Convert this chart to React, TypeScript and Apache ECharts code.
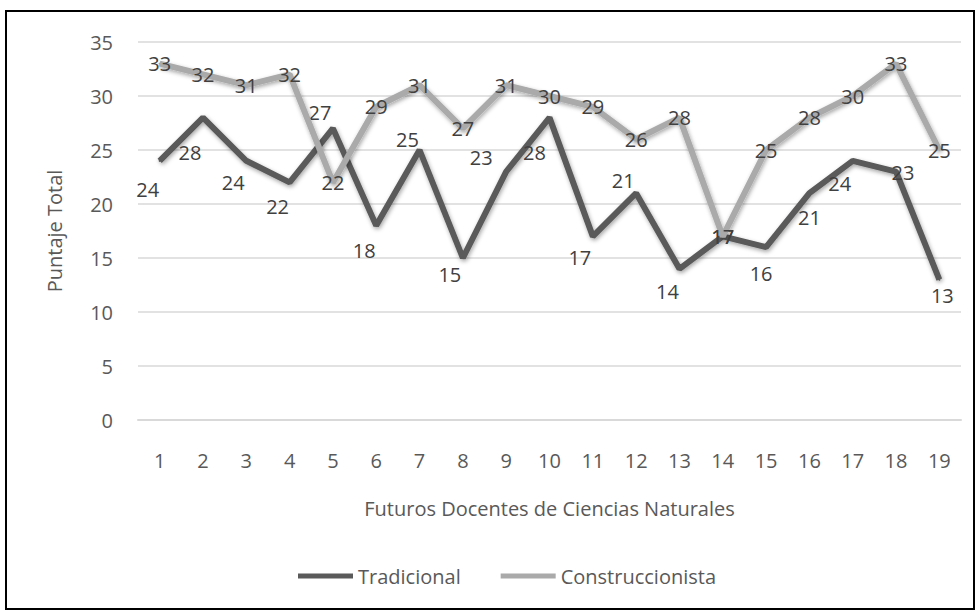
import React, { useEffect, useRef } from "react";
import * as echarts from "echarts";

const categories = ["1","2","3","4","5","6","7","8","9","10","11","12","13","14","15","16","17","18","19"];
const tradicional = [24, 28, 24, 22, 27, 18, 25, 15, 23, 28, 17, 21, 14, 17, 16, 21, 24, 23, 13];
const construccionista = [33, 32, 31, 32, 22, 29, 31, 27, 31, 30, 29, 26, 28, 17, 25, 28, 30, 33, 25];

// label offsets (styling only)
const tradLabelOffsets: [number, number][] = [
  [-12, 29], [-13, 35], [-13, 22], [-12, 24], [-13, -16], [-12, 25], [-12, -11], [-13, 16],
  [-25, -14], [-15, 35], [-13, 21], [-13, -13], [-12, 23], [0, 0], [-5, 26], [0, 24],
  [-13, 23], [7, 1], [3, 16],
];

const FONT = "Open Sans";
const FS = 20;

export default function App() {
  const ref = useRef<HTMLDivElement>(null);
  useEffect(() => {
    if (!ref.current) return;
    const chart = echarts.init(ref.current, undefined, { renderer: "svg" });
    const shadow = {
      shadowColor: "rgba(0,0,0,0.35)",
      shadowBlur: 4,
      shadowOffsetX: 1,
      shadowOffsetY: 2,
    };
    chart.setOption({
      animation: false,
      textStyle: { fontFamily: FONT },
      grid: { left: 131, right: 12, top: 30, bottom: 188 },
      legend: {
        top: 549,
        left: 286,
        itemWidth: 55,
        itemHeight: 5,
        itemGap: 40,
        textStyle: { fontFamily: FONT, fontSize: FS, color: "#595959" },
        data: [
          { name: "Tradicional", icon: "rect" },
          { name: "Construccionista", icon: "rect" },
        ],
      },
      xAxis: {
        type: "category",
        data: categories,
        boundaryGap: true,
        name: "Futuros Docentes de Ciencias Naturales",
        nameLocation: "middle",
        nameGap: 78,
        nameTextStyle: { fontFamily: FONT, fontSize: FS, color: "#595959" },
        axisLine: { show: true, lineStyle: { color: "#d9d9d9", width: 2 } },
        axisTick: { show: false },
        axisLabel: { margin: 30, fontFamily: FONT, fontSize: FS, color: "#595959" },
      },
      yAxis: {
        type: "value",
        min: 0,
        max: 35,
        interval: 5,
        name: "Puntaje Total",
        nameLocation: "middle",
        nameGap: 74,
        nameTextStyle: { fontFamily: FONT, fontSize: FS, color: "#595959" },
        axisLine: { show: false },
        axisTick: { show: false },
        axisLabel: { margin: 25, fontFamily: FONT, fontSize: FS, color: "#595959" },
        splitLine: { lineStyle: { color: "#d9d9d9", width: 1.5 } },
      },
      series: [
        {
          name: "Tradicional",
          type: "line",
          data: tradicional.map((v, i) => ({
            value: v,
            label: { offset: tradLabelOffsets[i] },
          })),
          symbol: "circle",
          symbolSize: 2,
          showSymbol: true,
          itemStyle: { color: "#5a5a5a" },
          lineStyle: { color: "#5a5a5a", width: 6, ...shadow },
          label: {
            show: true,
            position: "inside",
            fontFamily: FONT,
            fontSize: FS,
            color: "#404040",
          },
          z: 2,
        },
        {
          name: "Construccionista",
          type: "line",
          data: construccionista,
          symbol: "circle",
          symbolSize: 2,
          showSymbol: true,
          itemStyle: { color: "#aaaaaa" },
          lineStyle: { color: "#aaaaaa", width: 6, ...shadow },
          label: {
            show: true,
            position: "inside",
            fontFamily: FONT,
            fontSize: FS,
            color: "#404040",
          },
          z: 3,
        },
      ],
    });
    return () => chart.dispose();
  }, []);

  return (
    <div style={{ position: "fixed", left: 0, top: 0, width: 978, height: 613, background: "#fff" }}>
      <div
        style={{
          position: "absolute",
          left: 5,
          top: 10,
          width: 970,
          height: 600,
          border: "2px solid #000",
          boxSizing: "border-box",
        }}
      >
        <div ref={ref} style={{ width: 966, height: 596 }} />
      </div>
    </div>
  );
}
